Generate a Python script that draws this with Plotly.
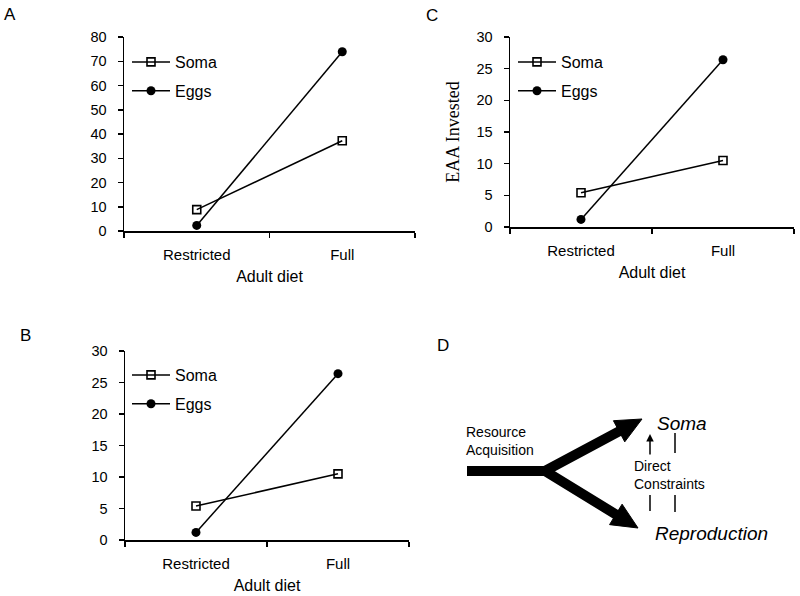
import math
import plotly.graph_objects as go

# ---------------- data ----------------
categories = ["Restricted", "Full"]
series_names = ["Soma", "Eggs"]
a_soma = [8.8, 37.2]
a_eggs = [2.3, 73.9]
b_soma = [5.4, 10.5]
b_eggs = [1.2, 26.4]
c_soma = [5.4, 10.5]
c_eggs = [1.2, 26.4]
a_yticks = [0, 10, 20, 30, 40, 50, 60, 70, 80]
bc_yticks = [0, 5, 10, 15, 20, 25, 30]

W, H = 800, 596
FONT = "Liberation Sans, Arial, sans-serif"


def fx(p):
    return p / W


def fy(p):
    return 1 - p / H


fig = go.Figure()

panels = [
    dict(xa="x", ya="y", lg="legend", soma=a_soma, eggs=a_eggs),
    dict(xa="x2", ya="y2", lg="legend2", soma=b_soma, eggs=b_eggs),
    dict(xa="x3", ya="y3", lg="legend3", soma=c_soma, eggs=c_eggs),
]
for p in panels:
    fig.add_trace(go.Scatter(
        x=categories, y=p["soma"], mode="lines+markers", name=series_names[0],
        xaxis=p["xa"], yaxis=p["ya"], legend=p["lg"], legendgroup=p["lg"] + "s",
        line=dict(color="black", width=1.5),
        marker=dict(symbol="square-open", size=8, color="black", line=dict(width=1.6)),
    ))
    fig.add_trace(go.Scatter(
        x=categories, y=p["eggs"], mode="lines+markers", name=series_names[1],
        xaxis=p["xa"], yaxis=p["ya"], legend=p["lg"], legendgroup=p["lg"] + "e",
        line=dict(color="black", width=1.5),
        marker=dict(symbol="circle", size=9, color="black"),
    ))


def xaxis_style(dom):
    return dict(
        domain=[fx(dom[0]), fx(dom[1])], type="category", range=[-0.5, 1.5],
        showline=True, linecolor="black", linewidth=1.5,
        ticks="outside", ticklen=5, tickwidth=1.5, tickcolor="black",
        tickson="boundaries", showgrid=False, zeroline=False,
        tickfont=dict(family=FONT, size=15, color="black"), ticklabelstandoff=9,
        title=dict(text="Adult diet", font=dict(family=FONT, size=16, color="black"), standoff=9),
        fixedrange=True, automargin=False,
    )


def yaxis_style(dom, rng, ticks):
    return dict(
        domain=[fy(dom[1]), fy(dom[0])], range=rng, tickvals=ticks,
        showline=True, linecolor="black", linewidth=1.5,
        ticks="outside", ticklen=5, tickwidth=1.5, tickcolor="black",
        showgrid=False, zeroline=False,
        tickfont=dict(family=FONT, size=14.5, color="black"), ticklabelstandoff=8,
        fixedrange=True, automargin=False,
    )


yc = yaxis_style([37, 227], [0, 30], bc_yticks)
yc["title"] = dict(text="EAA Invested", font=dict(family="Liberation Serif, Times New Roman, serif",
                                                  size=18, color="black"), standoff=12)


def legend_style(x, y):
    return dict(x=fx(x), y=fy(y), xanchor="left", yanchor="top", bgcolor="rgba(0,0,0,0)",
                font=dict(family=FONT, size=16, color="black"), tracegroupgap=5,
                traceorder="grouped", itemwidth=38)


fig.update_layout(
    width=W, height=H, margin=dict(l=0, r=0, t=0, b=0, autoexpand=False),
    paper_bgcolor="white", plot_bgcolor="rgba(0,0,0,0)",
    font=dict(family=FONT, color="black"),
    xaxis=dict(xaxis_style([124, 415]), anchor="y"),
    yaxis=dict(yaxis_style([37, 231], [0, 80], a_yticks), anchor="x"),
    xaxis2=dict(xaxis_style([125, 409]), anchor="y2"),
    yaxis2=dict(yaxis_style([351, 540], [0, 30], bc_yticks), anchor="x2"),
    xaxis3=dict(xaxis_style([510, 794]), anchor="y3"),
    yaxis3=dict(yc, anchor="x3"),
    xaxis4=dict(domain=[0, 1], range=[0, W], visible=False, anchor="y4", fixedrange=True,
                automargin=False),
    yaxis4=dict(domain=[0, 1], range=[H, 0], visible=False, anchor="x4", fixedrange=True,
                automargin=False),
    legend=legend_style(127, 45),
    legend2=legend_style(127, 358),
    legend3=legend_style(513, 45),
    showlegend=True,
)

# invisible trace to activate the hidden overlay axes used for diagram D
fig.add_trace(go.Scatter(x=[0], y=[0], xaxis="x4", yaxis="y4", mode="markers",
                         marker=dict(opacity=0), showlegend=False, hoverinfo="skip"))

# ---------------- panel letters ----------------
letters = [("A", 10, 14), ("C", 432, 15), ("B", 25, 335), ("D", 443, 345)]
annotations = []
for t, x, y in letters:
    annotations.append(dict(text=t, x=x, y=y, xref="x4", yref="y4", showarrow=False,
                            xanchor="center", yanchor="middle",
                            font=dict(family=FONT, size=17, color="black")))

# ---------------- diagram D ----------------
stem_start = (467, 471)
fork = (545, 471)
tip_up = (642, 419)
tip_down = (638, 528)
head_len, head_half = 26, 12
thick = 10

shapes = []


def head(tip, origin):
    dx, dy = tip[0] - origin[0], tip[1] - origin[1]
    d = math.hypot(dx, dy)
    ux, uy = dx / d, dy / d
    bx, by = tip[0] - head_len * ux, tip[1] - head_len * uy
    nx, ny = -uy, ux
    p1 = (bx + head_half * nx, by + head_half * ny)
    p2 = (bx - head_half * nx, by - head_half * ny)
    path = f"M {tip[0]},{tip[1]} L {p1[0]},{p1[1]} L {p2[0]},{p2[1]} Z"
    return (bx + 2 * ux, by + 2 * uy), path


base_up, path_up = head(tip_up, fork)
base_dn, path_dn = head(tip_down, fork)
shapes.append(dict(type="path", xref="x4", yref="y4",
                   path=f"M {stem_start[0]},{stem_start[1]} L {fork[0]},{fork[1]} L {base_up[0]},{base_up[1]}",
                   line=dict(color="black", width=thick)))
shapes.append(dict(type="path", xref="x4", yref="y4",
                   path=f"M {fork[0] - 4},{fork[1]} L {fork[0]},{fork[1]} L {base_dn[0]},{base_dn[1]}",
                   line=dict(color="black", width=thick)))
for pth in (path_up, path_dn):
    shapes.append(dict(type="path", xref="x4", yref="y4", path=pth,
                       fillcolor="black", line=dict(color="black", width=1)))

thin_lines = [((675, 433), (675, 453)), ((650, 495), (650, 511)), ((675, 495), (675, 512))]
for (x0, y0), (x1, y1) in thin_lines:
    shapes.append(dict(type="line", xref="x4", yref="y4", x0=x0, y0=y0, x1=x1, y1=y1,
                       line=dict(color="black", width=1.5)))

annotations.append(dict(text="", x=650, y=434, ax=650, ay=456, xref="x4", yref="y4",
                        axref="x4", ayref="y4", showarrow=True, arrowhead=2,
                        arrowsize=1, arrowwidth=1.5, arrowcolor="black"))

texts = [
    ("Resource<br>Acquisition", 464, 441, 14, False),
    ("Soma", 655, 423, 19, True),
    ("Reproduction", 653, 533, 19, True),
    ("Direct<br>Constraints", 632, 475, 14, False),
]
for t, x, y, s, it in texts:
    annotations.append(dict(text=f"<i>{t}</i>" if it else t, x=x, y=y, xref="x4", yref="y4",
                            showarrow=False, xanchor="left", yanchor="middle", align="left",
                            font=dict(family=FONT, size=s, color="black")))

fig.update_layout(shapes=shapes, annotations=annotations)
fig.write_html(
    "out.html",
    config={"displayModeBar": False, "staticPlot": True},
    post_script="document.body.style.margin='0';document.body.style.padding='0';"
                "document.body.style.overflow='hidden';",
)
